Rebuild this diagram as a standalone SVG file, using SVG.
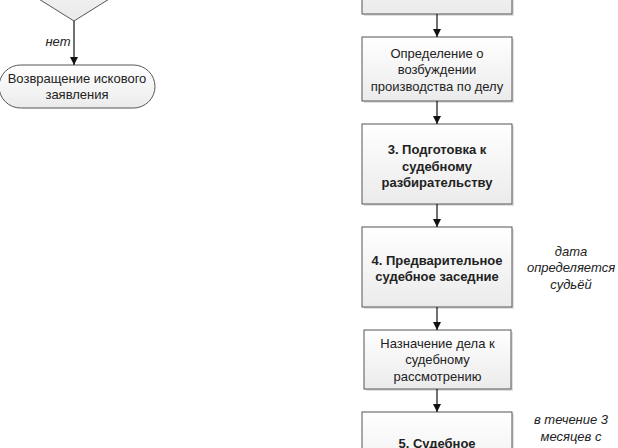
<svg xmlns="http://www.w3.org/2000/svg" width="618" height="448" viewBox="0 0 618 448">
<style>
.box{fill:url(#g);stroke:#555;stroke-width:1}
.sh{fill:#000;opacity:0.12}
.t{font-family:"Liberation Sans",Arial,sans-serif;font-size:13px;fill:#222;text-anchor:middle}
.b{font-weight:bold}
.i{font-style:italic}
.c{stroke:#111;stroke-width:1.2;fill:none;marker-end:url(#a)}
</style>
<defs>
<linearGradient id="g" x1="0" y1="0" x2="0" y2="1">
<stop offset="0" stop-color="#ffffff"/>
<stop offset="1" stop-color="#ebebeb"/>
</linearGradient>
<marker id="a" viewBox="0 0 10 10" refX="10" refY="5" markerWidth="8" markerHeight="8" markerUnits="userSpaceOnUse" orient="auto">
<path d="M0,0 L10,5 L0,10 z" fill="#111"/>
</marker>
</defs>
<rect width="618" height="448" fill="#fff"/>
<g id="decision">
<polygon points="74,21 -22,-39 74,-99 170,-39" class="box"/>
</g>
<g id="return">
<rect x="-1" y="65" width="156" height="43" rx="21.5" class="box"/>
<text class="t" x="77" y="82.5">Возвращение искового</text>
<text class="t" x="77" y="99">заявления</text>
</g>
<g id="box1">
<rect x="364" y="-64" width="150" height="80" class="sh"/>
<rect x="362" y="-66" width="150" height="80" class="box"/>
</g>
<g id="box2">
<rect x="364" y="39" width="150" height="64" class="sh"/>
<rect x="362" y="37" width="150" height="64" class="box"/>
<text class="t" x="437" y="57.5">Определение о</text>
<text class="t" x="437" y="74">возбуждении</text>
<text class="t" x="437" y="90.5">производства по делу</text>
</g>
<g id="box3">
<rect x="364" y="126" width="150" height="80" class="sh"/>
<rect x="362" y="124" width="150" height="80" class="box"/>
<text class="t b" x="437" y="154">3. Подготовка к</text>
<text class="t b" x="437" y="170.5">судебному</text>
<text class="t b" x="437" y="187">разбирательству</text>
</g>
<g id="box4">
<rect x="364" y="229" width="150" height="80" class="sh"/>
<rect x="362" y="227" width="150" height="80" class="box"/>
<text class="t b" x="437" y="264.5">4. Предварительное</text>
<text class="t b" x="437" y="281">судебное заседние</text>
</g>
<g id="note4">
<text class="t i" x="571" y="255.5">дата</text>
<text class="t i" x="571" y="272">определяется</text>
<text class="t i" x="571" y="288.5">судьёй</text>
</g>
<g id="box5">
<rect x="366" y="332" width="147" height="59" class="sh"/>
<rect x="364" y="330" width="147" height="59" class="box"/>
<text class="t" x="437.5" y="347.5">Назначение дела к</text>
<text class="t" x="437.5" y="364">судебному</text>
<text class="t" x="437.5" y="380.5">рассмотрению</text>
</g>
<g id="box6">
<rect x="364" y="414" width="150" height="80" class="sh"/>
<rect x="362" y="412" width="150" height="80" class="box"/>
<text class="t b" x="437" y="448">5. Судебное</text>
</g>
<g id="note6">
<text class="t i" x="571" y="424">в течение 3</text>
<text class="t i" x="571" y="440.5">месяцев с</text>
</g>
<g id="connectors">
<path class="c" d="M74,21 V65"/>
<text class="t i" x="58" y="45.5">нет</text>
<path class="c" d="M437,14 V37"/>
<path class="c" d="M437,101 V124"/>
<path class="c" d="M437,204 V227"/>
<path class="c" d="M437,307 V330"/>
<path class="c" d="M437,389 V412"/>
</g>
</svg>
